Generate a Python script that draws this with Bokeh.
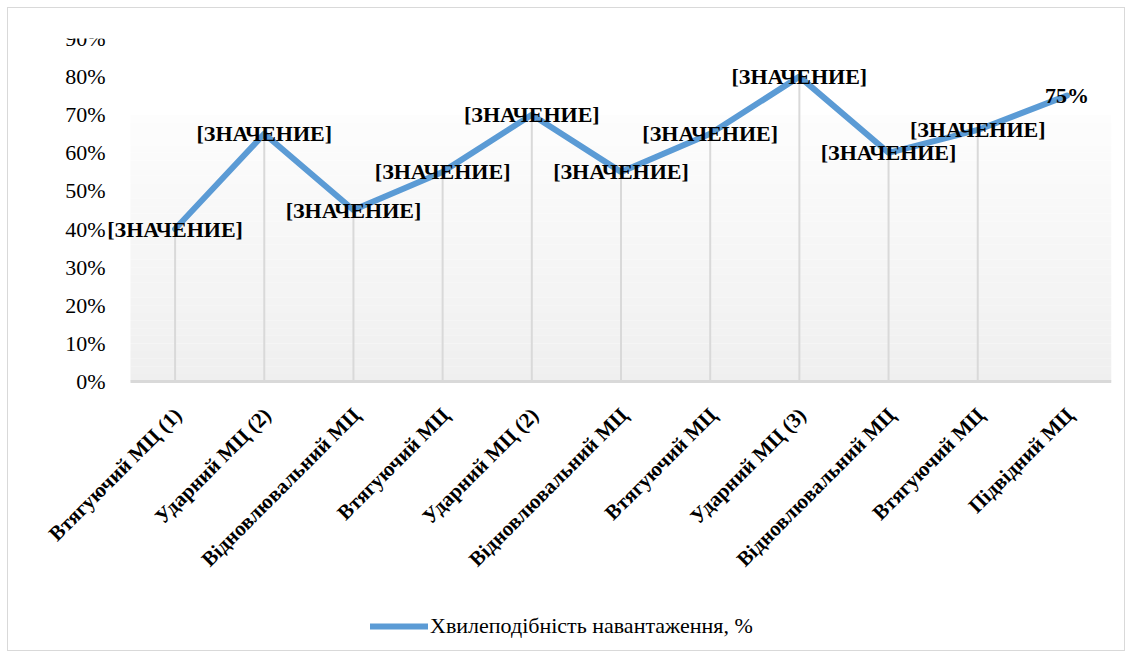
import math
from bokeh.plotting import figure
from bokeh.models import (Range1d, BoxAnnotation, Legend, LegendItem, ColumnDataSource, LabelSet)
from bokeh.embed import file_html
from bokeh.resources import INLINE

categories = ["Втягуючий МЦ (1)", "Ударний МЦ (2)", "Відновлювальний МЦ", "Втягуючий МЦ",
              "Ударний МЦ (2)", "Відновлювальний МЦ", "Втягуючий МЦ", "Ударний МЦ (3)",
              "Відновлювальний МЦ", "Втягуючий МЦ", "Підвідний МЦ"]
values = [0.40, 0.65, 0.45, 0.55, 0.70, 0.55, 0.65, 0.80, 0.60, 0.66, 0.75]
data_labels = ["[ЗНАЧЕНИЕ]"] * 10 + ["75%"]
y_ticks = [0.0, 0.1, 0.2, 0.3, 0.4, 0.5, 0.6, 0.7, 0.8, 0.9]
y_tick_labels = ["0%", "10%", "20%", "30%", "40%", "50%", "60%", "70%", "80%", "90%"]
series_name = "Хвилеподібність навантаження, %"

xs = list(range(len(categories)))
n = len(categories)
FONT = "Liberation Serif, Times New Roman, DejaVu Serif, serif"

# geometry: the frame covers the whole chart box; the value axis 0..90% occupies 343 px,
# the categories occupy 981 px starting 122 px right of the frame's left edge
cat_px = 981 / n
extra_left_px = 122
x_start = -0.5 - extra_left_px / cat_px
axis_px = 343
y_max = 0.9
frame_h = 607
y_min = y_max - frame_h * y_max / axis_px

p = figure(frame_width=981 + extra_left_px, frame_height=frame_h, output_backend="svg",
           toolbar_location=None,
           x_range=Range1d(x_start, n - 0.5), y_range=Range1d(y_min, y_max),
           min_border_left=0, min_border_right=13, min_border_top=30, min_border_bottom=5)
p.styles = {"margin-left": "7px", "margin-top": "7px", "border": "1px solid #d9d9d9"}
p.outline_line_color = None
p.xgrid.visible = False
p.ygrid.visible = False
p.xaxis.visible = False
p.yaxis.visible = False
p.background_fill_color = "#ffffff"
p.border_fill_color = "#ffffff"

# gradient plot-area fill (white -> light grey)
n_bands = 35
top_level = 0.7
for i in range(n_bands):
    b = top_level * i / n_bands
    t = top_level * (i + 1) / n_bands
    frac = (i + 0.5) / n_bands
    c = int(round(239 + (253 - 239) * frac))
    p.add_layout(BoxAnnotation(left=-0.5, right=n - 0.5, bottom=b, top=t,
                               fill_color=(c, c, c), fill_alpha=1.0,
                               line_color=None, level="underlay"))

# category axis base line
p.segment(x0=[-0.5], y0=[0], x1=[n - 0.5], y1=[0], line_color="#d9d9d9", line_width=3)

# drop lines
src = ColumnDataSource(dict(x=xs, y=values, lab=data_labels))
drop_src = ColumnDataSource(dict(x=xs[:-1], y=values[:-1], zero=[0] * (n - 1)))
p.segment(x0="x", y0="zero", x1="x", y1="y", source=drop_src, line_color="#d9d9d9", line_width=2)

line = p.line("x", "y", source=src, line_color="#5b9bd5", line_width=6,
              line_join="round", line_cap="round")

labels = LabelSet(x="x", y="y", text="lab", source=src, text_align="center",
                  text_baseline="middle", text_font=FONT, text_font_style="bold",
                  text_font_size="22px", text_color="#000000")
p.add_layout(labels)

# value-axis tick labels
y_label_x = -0.5 - 25 / cat_px
ysrc = ColumnDataSource(dict(x=[y_label_x] * len(y_ticks), y=y_ticks, lab=y_tick_labels))
p.add_layout(LabelSet(x="x", y="y", text="lab", source=ysrc, text_align="right",
                      text_baseline="middle", text_font=FONT, text_font_size="22px",
                      text_color="#000000"))

# category labels (rotated, under the base line)
cat_src = ColumnDataSource(dict(x=xs, y=[0] * n, lab=categories))
cat_labels = LabelSet(x="x", y="y", text="lab", source=cat_src, angle=math.pi / 4,
                      text_align="right", text_baseline="middle", x_offset=3, y_offset=-30,
                      text_font=FONT, text_font_style="bold", text_font_size="21px",
                      text_color="#000000")
p.add_layout(cat_labels)

legend = Legend(items=[LegendItem(label=series_name, renderers=[line])],
                orientation="horizontal", location=(362, 6),
                glyph_width=58, glyph_height=22, border_line_color=None,
                background_fill_alpha=0, margin=0, padding=0, label_standoff=2)
legend.label_text_font = FONT
legend.label_text_font_size = "22px"
legend.label_text_color = "#000000"
p.add_layout(legend)

open("out.html", "w").write(file_html(p, INLINE))
